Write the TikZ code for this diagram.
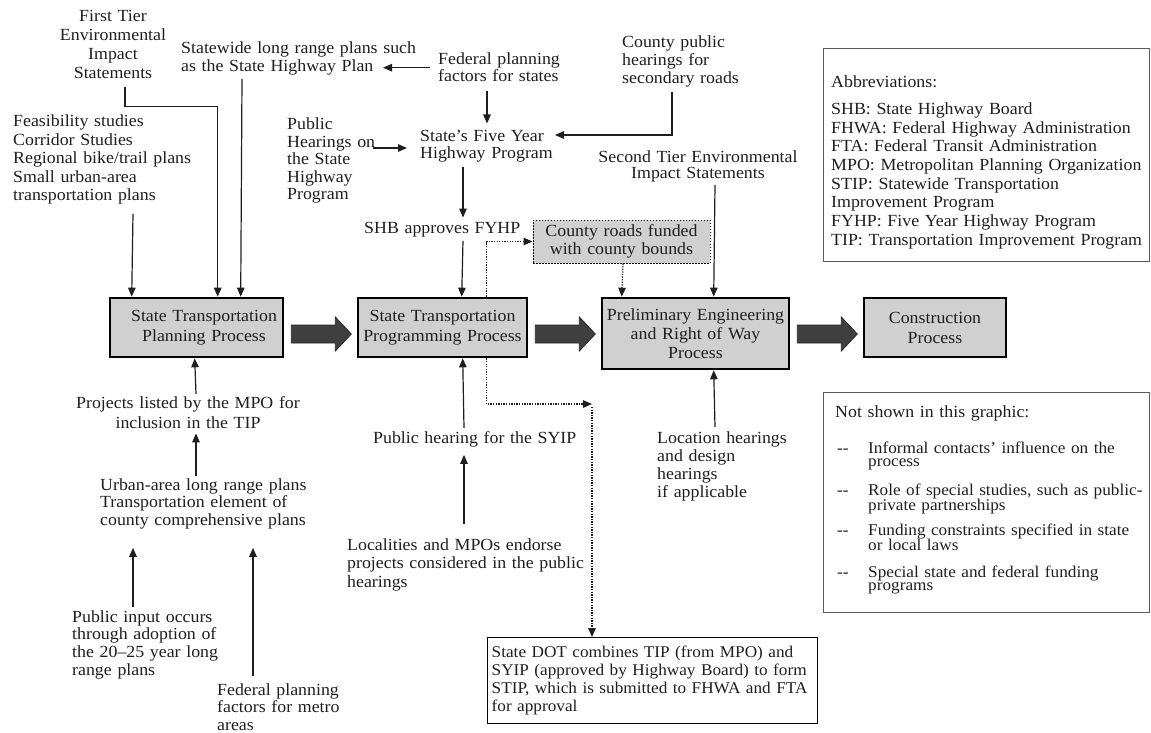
\documentclass[tikz,border=0pt]{standalone}
\usepackage{fontspec}
\setmainfont{Liberation Serif}[FakeStretch=1.05]
\usetikzlibrary{arrows.meta,calc}
\definecolor{txtc}{HTML}{1E1E1E}
\definecolor{boxfill}{HTML}{D0D0D0}
\definecolor{arrfill}{HTML}{3F3F3F}
\definecolor{panelc}{HTML}{5A5A5A}
\newcommand\fsz[1]{\fontsize{17pt}{#1pt}\selectfont}
\newcommand\fszs[1]{\fontsize{16.4pt}{#1pt}\selectfont}
\begin{document}
\begin{tikzpicture}[x=1pt,y=-1pt,
  txt/.style={inner sep=0pt, text=txtc, align=left, text width=#1, font=\fsz{18.5}},
  txt/.default=260pt,
  procbox/.style={draw=black, line width=2.6pt, fill=boxfill, inner sep=0pt, text=txtc, align=center},
  panel/.style={draw=panelc, line width=1.4pt, inner sep=0pt},
  conn/.style={draw=txtc, line width=1.2pt, -{Triangle[length=9pt,width=7.5pt]}},
  dotconn/.style={conn, dash pattern=on 1.3pt off 1.3pt},
  bigarr/.style={fill=arrfill, draw=black!85, line width=0.8pt, line join=miter}
]
\useasboundingbox (0,0) rectangle (1151,733);

% ---- top text nodes
\node[txt, font=\fsz{19}, align=center, anchor=base] (fte) at (113,22) {First Tier\\Environmental\\Impact\\Statements};
\node[txt, font=\fsz{18}, anchor=base west] (swp) at (181,54) {Statewide long range plans such\\as the State Highway Plan};
\node[txt, font=\fsz{17}, anchor=base west] (fpf) at (438,65) {Federal planning\\factors for states};
\node[txt, font=\fsz{18}, anchor=base west] (cph) at (622,48) {County public\\hearings for\\secondary roads};
\node[txt, font=\fsz{18.5}, anchor=base west] (feas) at (13,127) {Feasibility studies\\Corridor Studies\\Regional bike/trail plans\\Small urban-area\\transportation plans};
\node[txt, font=\fsz{17.5}, anchor=base west] (phs) at (287,130) {Public\\Hearings on\\the State\\Highway\\Program};
\node[txt, font=\fsz{16.5}, anchor=base west] (sfy) at (420,142) {State’s Five Year\\Highway Program};
\node[txt, font=\fsz{17}, align=center, anchor=base] (ste) at (698,162) {Second Tier Environmental\\Impact Statements};
\node[txt, font=\fsz{18}, anchor=base west] (shb) at (364,233) {SHB approves FYHP};

% ---- process boxes
\node[procbox, minimum width=173pt, minimum height=59pt, text width=171pt, font=\fsz{20}] (box1) at (196.5,327.5) {\hspace*{15pt}State Transportation\\\hspace*{15pt}Planning Process};
\node[procbox, minimum width=169pt, minimum height=59pt, text width=167pt, font=\fsz{20}] (box2) at (442.5,327.5) {State Transportation\\Programming Process};
\node[procbox, minimum width=187pt, minimum height=71pt, text width=185pt, font=\fsz{19}] (box3) at (695.5,333.5) {Preliminary Engineering\\and Right of Way\\Process};
\node[procbox, minimum width=142pt, minimum height=59pt, text width=138pt, font=\fsz{20}] (box4) at (935,327.5) {Construction\\Process};
\node[draw=black, line width=1pt, dash pattern=on 1.5pt off 1.5pt, fill=boxfill, inner sep=0pt, minimum width=177pt, minimum height=43pt, text width=175pt, align=center, text=txtc, font=\fsz{18}] (crf) at (621.5,241.5) {County roads funded\\with county bounds};

% ---- big arrows
\filldraw[bigarr] ($(box1.east)+(7,6.5)$) ++(0,-9) -- ++(44,0) -- ++(0,-8) -- ++(16,17) -- ++(-16,17) -- ++(0,-8) -- ++(-44,0) -- cycle;
\filldraw[bigarr] ($(box2.east)+(7,6.5)$) ++(0,-9) -- ++(44,0) -- ++(0,-8) -- ++(16,17) -- ++(-16,17) -- ++(0,-8) -- ++(-44,0) -- cycle;
\filldraw[bigarr] ($(box3.east)+(7,0.5)$) ++(0,-9) -- ++(44,0) -- ++(0,-8) -- ++(16,17) -- ++(-16,17) -- ++(0,-8) -- ++(-44,0) -- cycle;

% ---- panels
\node[panel, minimum width=326pt, minimum height=213pt, anchor=north west] (abbr) at (823,48) {};
\node[txt=322pt, font=\fsz{18.7}, anchor=base west] (abbrt) at (831,87.5) {Abbreviations:\\[8.3pt]SHB: State Highway Board\\FHWA: Federal Highway Administration\\FTA: Federal Transit Administration\\MPO: Metropolitan Planning Organization\\STIP: Statewide Transportation\\Improvement Program\\FYHP: Five Year Highway Program\\TIP: Transportation Improvement Program};

\node[panel, minimum width=326pt, minimum height=220pt, anchor=north west] (nsb) at (823,392) {};
\node[txt, anchor=base west] (nst) at (835,417) {Not shown in this graphic:};
\node[txt=360pt, font=\fszs{13}, anchor=base west] (ns1) at (837,453) {\makebox[31pt][l]{-{}-}Informal contacts’ influence on the\\\hspace*{31pt}process};
\node[txt=360pt, font=\fszs{13}, anchor=base west] (ns2) at (837,495) {\makebox[31pt][l]{-{}-}Role of special studies, such as public-\\\hspace*{31pt}private partnerships};
\node[txt=360pt, font=\fszs{13}, anchor=base west] (ns3) at (837,535) {\makebox[31pt][l]{-{}-}Funding constraints specified in state\\\hspace*{31pt}or local laws};
\node[txt=360pt, font=\fszs{13}, anchor=base west] (ns4) at (837,577) {\makebox[31pt][l]{-{}-}Special state and federal funding\\\hspace*{31pt}programs};

% ---- bottom text nodes
\node[txt, font=\fsz{20}, align=center, anchor=base] (prj) at (188,408) {Projects listed by the MPO for\\inclusion in the TIP};
\node[txt, font=\fsz{17.5}, anchor=base west] (urb) at (100,490) {Urban-area long range plans\\Transportation element of\\county comprehensive plans};
\node[txt, font=\fsz{17.7}, anchor=base west] (pin) at (72,622) {Public input occurs\\through adoption of\\the 20--25 year long\\range plans};
\node[txt, font=\fsz{17.5}, anchor=base west] (fmt) at (217,695) {Federal planning\\factors for metro\\areas};
\node[txt, anchor=base west] (syip) at (373,443) {Public hearing for the SYIP};
\node[txt, font=\fsz{18.5}, anchor=base west] (loc) at (347,550) {Localities and MPOs endorse\\projects considered in the public\\hearings};
\node[txt, font=\fsz{18.3}, anchor=base west] (lhr) at (657,443) {Location hearings\\and design\\hearings\\if applicable};
\node[draw=black, line width=1.4pt, minimum width=330pt, minimum height=86pt, anchor=north west, inner sep=0pt, text width=322pt, align=left, text=txtc, font=\fszs{18}] (bot) at (487,637) {State DOT combines TIP (from MPO) and\\SYIP (approved by Highway Board) to form\\STIP, which is submitted to FHWA and FTA\\for approval};

% ---- connectors
\draw[conn] ($(feas.south west)+(120,9)$) -- ($(box1.north west)+(23,0)$);
\draw[conn] ($(fte.south)+(12,8)$) -- ++(0,19) -| ($(box1.north west)+(109,0)$);
\draw[conn] ($(swp.south west)+(61,3)$) -- ($(box1.north west)+(132,0)$);
\coordinate (swpend) at ($(swp.base west)+(202,0)$);
\draw[conn] ($(fpf.west)+(-8,0)$) -- (swpend |- fpf.west);
\draw[conn] ($(fpf.south west)+(49,9)$) -- ($(sfy.north west)+(67,-7)$);
\draw[conn] ($(cph.south west)+(50,4)$) |- ($(sfy.base west)+(135,-7)$);
\draw[conn] ($(phs.base west)+(86,18)$) -- ($(sfy.base west)+(-13,6)$);
\draw[conn] ($(sfy.south west)+(43,5)$) -- ($(shb.north west)+(99,-4)$);
\draw[conn] ($(shb.south west)+(99,4)$) -- ($(box2.north west)+(105,0)$);
\draw[dotconn] ($(box2.north west)+(130,0)$) |- (crf.west);
\draw[dotconn] ($(crf.south)+(1.5,0)$) -- ($(box3.north west)+(21,0)$);
\draw[conn] ($(ste.south)+(17,2)$) -- ($(box3.north west)+(113,0)$);
\draw[conn] ($(prj.north)+(8,-2)$) -- ($(box1.south west)+(86,0)$);
\draw[conn] ($(urb.north west)+(96,-2)$) -- ($(prj.south)+(8,5)$);
\draw[conn] ($(pin.north west)+(61,-3)$) -- ($(urb.south west)+(33,19)$);
\draw[conn] ($(fmt.north west)+(36,-7)$) -- ($(urb.south west)+(153,19)$);
\draw[conn] ($(syip.north west)+(91,-3)$) -- ($(box2.south west)+(106,0)$);
\draw[conn] ($(loc.north west)+(117,-14)$) -- ($(syip.south west)+(91,8)$);
\coordinate (dc) at ($(bot.north west)+(105,-233)$);
\draw[dotconn] ($(box2.south west)+(130,0)$) |- (dc);
\draw[dotconn] ($(dc)+(0,3)$) -- ($(bot.north west)+(105,0)$);
\draw[conn] ($(lhr.north west)+(58,-4)$) -- ($(box3.south west)+(113,0)$);
\end{tikzpicture}
\end{document}
